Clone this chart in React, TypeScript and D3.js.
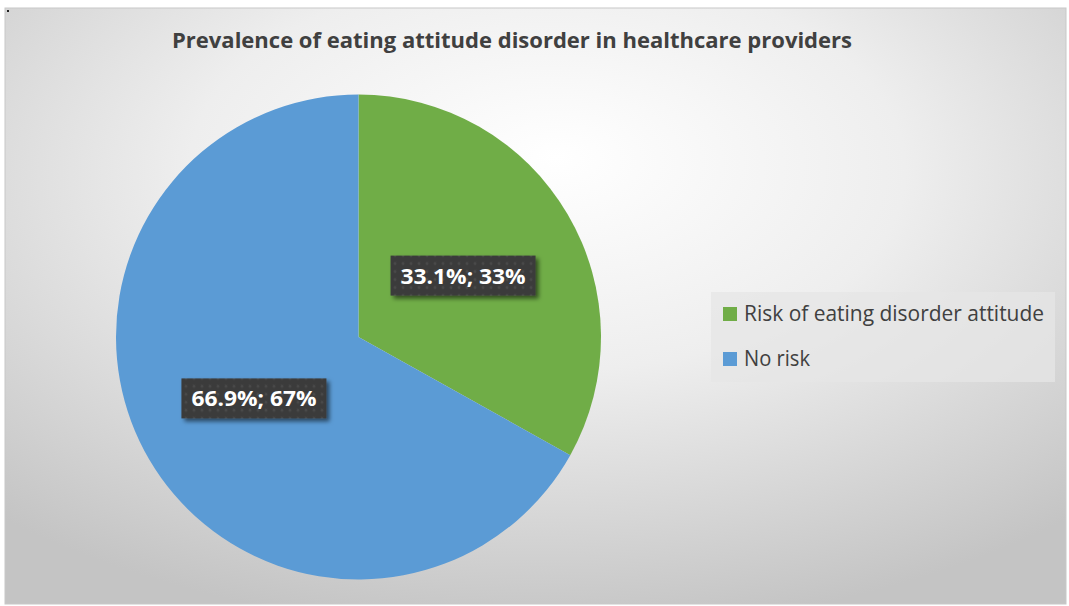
import React from "react";
import * as d3 from "d3";

const categories = ["Risk of eating disorder attitude", "No risk"];
const values = [33.1, 66.9];
const percentLabels = ["33%", "67%"];
const colors = ["#70AD47", "#5B9BD5"];
const title = "Prevalence of eating attitude disorder in healthcare providers";

const W = 1069;
const H = 606;

export default function App() {
  const cx = 358.5;
  const cy = 337;
  const r = 242.5;
  const pie = d3.pie<number>().sort(null).value((d) => d)(values);
  const arc = d3.arc<d3.PieArcDatum<number>>().innerRadius(0).outerRadius(r);
  const font = "'Open Sans', 'Noto Sans', sans-serif";
  const legendWidths = [300, 66];

  return (
    <svg
      width={W}
      height={H}
      style={{ position: "absolute", left: 0, top: 0 }}
      xmlns="http://www.w3.org/2000/svg"
    >
      <defs>
        <radialGradient id="bg" cx="50%" cy="30%" r="75%" fx="52%" fy="25%">
          <stop offset="0%" stopColor="#ffffff" />
          <stop offset="45%" stopColor="#eeeeee" />
          <stop offset="100%" stopColor="#c4c4c4" />
        </radialGradient>
        <pattern id="dots" width="8" height="8" patternUnits="userSpaceOnUse">
          <rect width="8" height="8" fill="#3b3b3b" />
          <circle cx="4" cy="4" r="1.4" fill="#4a4a4a" />
        </pattern>
        <filter id="shadow" x="-20%" y="-30%" width="140%" height="170%">
          <feDropShadow dx="3" dy="3" stdDeviation="2.2" floodColor="#000" floodOpacity="0.55" />
        </filter>
      </defs>
      <rect x={5} y={8} width={W - 8} height={H - 10} fill="url(#bg)" stroke="#c8c8c8" strokeWidth={1} />
      <rect x={7} y={10} width={2} height={2} fill="#222" />
      <text
        x={512}
        y={48}
        textAnchor="middle"
        fontFamily={font}
        fontWeight="bold"
        fontSize={22}
        fill="#404040"
        textLength={680}
        lengthAdjust="spacingAndGlyphs"
      >
        {title}
      </text>
      <g transform={`translate(${cx},${cy})`}>
        {pie.map((d, i) => (
          <path key={i} d={arc(d) || ""} fill={colors[i]} />
        ))}
        {pie.map((d, i) => {
          const [x, y] = arc.centroid(d);
          const bw = 145;
          const bh = 40;
          return (
            <g key={"l" + i} transform={`translate(${x},${y})`}>
              <rect x={-bw / 2} y={-bh / 2} width={bw} height={bh} fill="url(#dots)" filter="url(#shadow)" />
              <text
                x={0}
                y={8}
                textAnchor="middle"
                fontFamily={font}
                fontWeight="bold"
                fontSize={22}
                fill="#ffffff"
                textLength={125}
                lengthAdjust="spacingAndGlyphs"
              >
                {`${values[i]}%; ${percentLabels[i]}`}
              </text>
            </g>
          );
        })}
      </g>
      <g>
        <rect x={711} y={292} width={344} height={90} fill="#e6e6e6" opacity={0.75} />
        {categories.map((c, i) => (
          <g key={c} transform={`translate(723,${307 + i * 45})`}>
            <rect x={0} y={0} width={14} height={14} fill={colors[i]} />
            <text
              x={21}
              y={14}
              fontFamily={font}
              fontSize={21}
              fill="#404040"
              textLength={legendWidths[i]}
              lengthAdjust="spacingAndGlyphs"
            >
              {c}
            </text>
          </g>
        ))}
      </g>
    </svg>
  );
}
